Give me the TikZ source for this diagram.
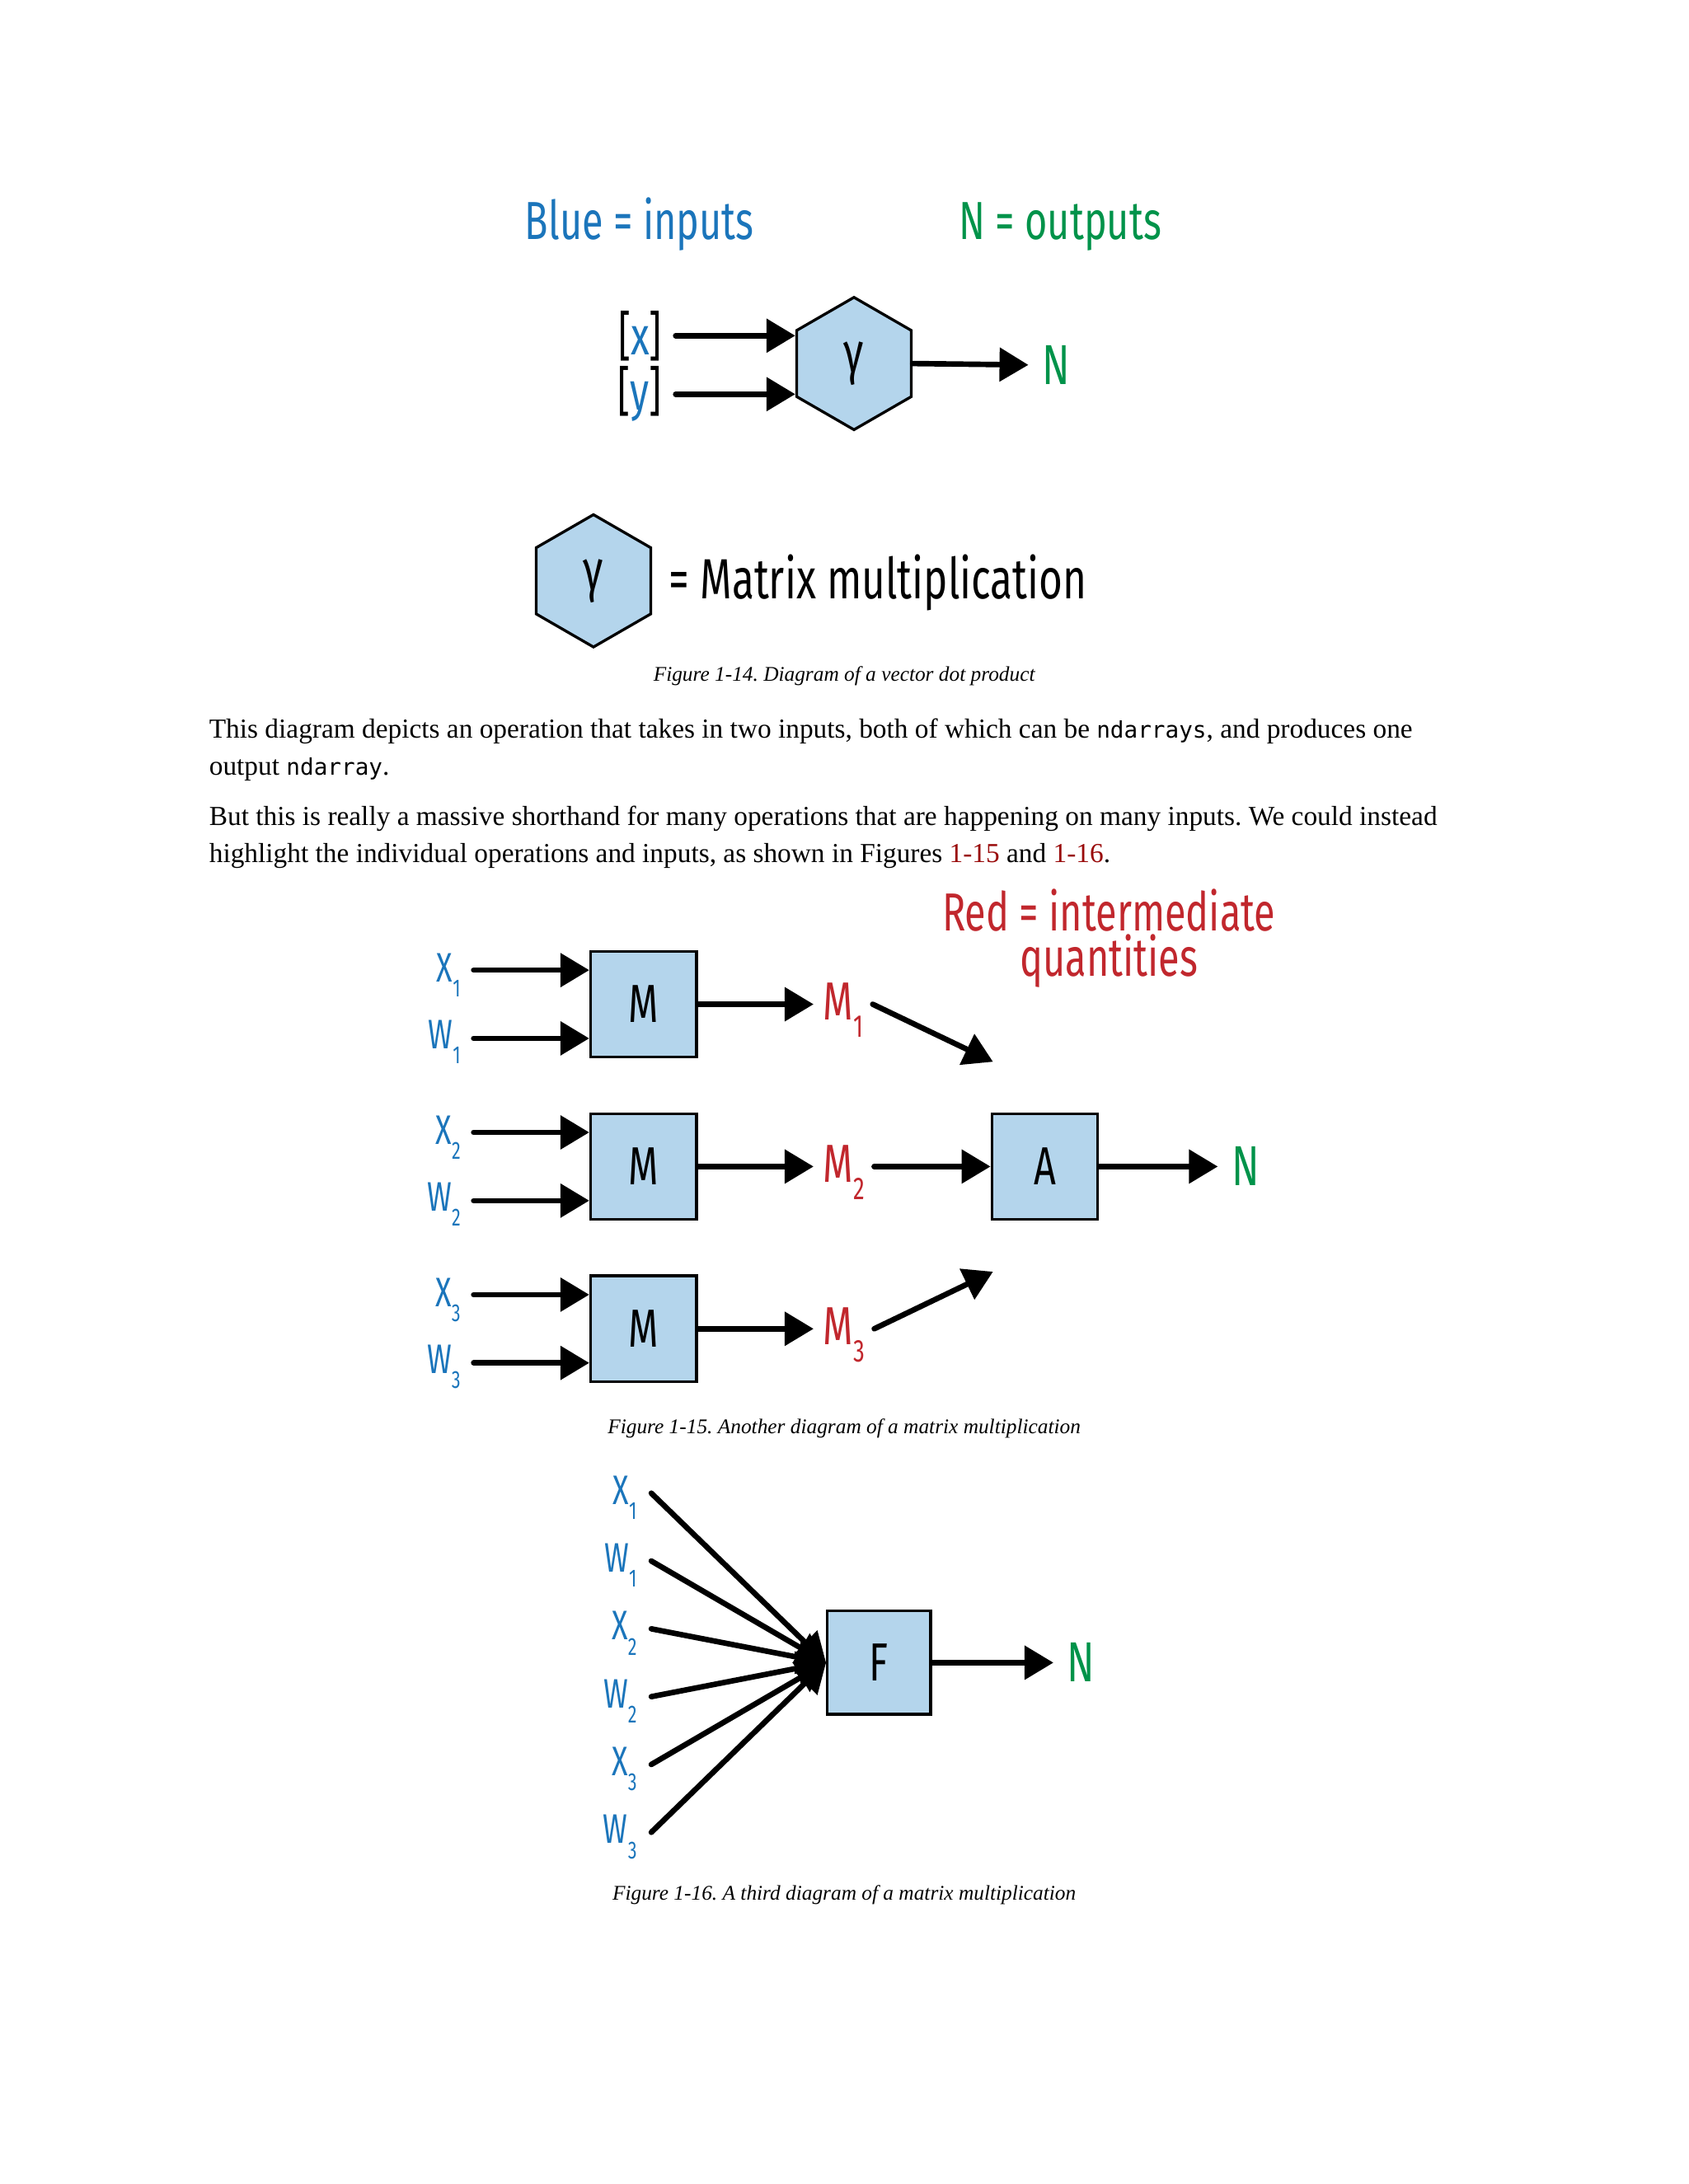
\documentclass[tikz,border=0pt]{standalone}
\usepackage{fontspec}
\setmainfont{Liberation Serif}
\newfontfamily\dgfont[FakeStretch=0.72]{Fira Sans}
\newfontfamily\codefont{DejaVu Sans Mono}
\usetikzlibrary{arrows.meta, positioning, shapes.geometric}

\definecolor{inblue}{HTML}{1B75BB}
\definecolor{outgreen}{HTML}{00934A}
\definecolor{midred}{HTML}{C1272D}
\definecolor{boxfill}{HTML}{B4D5EC}
\definecolor{linkred}{HTML}{990A0A}

\newcommand{\insub}[2]{#1\raisebox{-5.5pt}{\fontsize{9}{10}\selectfont #2}}
\newcommand{\midsub}[2]{#1\raisebox{-6.3pt}{\fontsize{11.5}{12}\selectfont #2}}
\newcommand{\ndcode}[1]{{\codefont\fontsize{8.3}{10}\selectfont #1}}

\begin{document}
\frenchspacing
\begin{tikzpicture}[x=0.017814cm, y=-0.017814cm,
    arr/.style={line width=2pt, line cap=round, -{Triangle[length=10.5pt,width=12pt]}},
    opbox/.style={draw, line width=1pt, fill=boxfill, minimum size=1.354cm, inner sep=0pt,
      font=\dgfont\fontsize{19.5}{20}\selectfont},
    ophex/.style={draw, line width=1pt, fill=boxfill, regular polygon, regular polygon sides=6,
      shape border rotate=30, minimum size=1.692cm, inner sep=0pt,
      font=\dgfont\fontsize{21}{22}\selectfont},
    key/.style={inner sep=0pt, font=\dgfont\fontsize{19.5}{22}\selectfont},
    inlbl/.style={text=inblue, inner sep=0pt, anchor=base east, font=\dgfont\fontsize{15}{16}\selectfont},
    midlbl/.style={text=midred, inner sep=0pt, outer sep=3.5pt, anchor=base west,
      font=\dgfont\fontsize{19.5}{20}\selectfont},
    outlbl/.style={text=outgreen, inner sep=0pt, outer sep=5pt, font=\dgfont\fontsize{20.5}{22}\selectfont},
    caption/.style={anchor=base, inner sep=0pt, font=\itshape\fontsize{7.6}{9}\selectfont},
    body/.style={anchor=base west, inner sep=0pt, font=\fontsize{10}{13.5}\selectfont}]

    \fill[white] (0,0) rectangle (1212,1568);
    \useasboundingbox (0,0) rectangle (1212,1568);

    % Figure 1-14: dot product
    \node[key, text=inblue, anchor=base] (bluekey) at (459,172) {Blue = inputs};
    \node[key, text=outgreen, anchor=base] (greenkey) at (761,172) {N = outputs};

    \node[ophex] (dot) at (613,261) {γ};
    \node[key, anchor=east, outer sep=5pt] (xin) at (485,241) {[\textcolor{inblue}{x}]};
    \node[key, anchor=east, outer sep=5pt] (yin) at (485,283) {[\textcolor{inblue}{y}]};
    \node[outlbl] (nout) at (758,262) {N};

    \draw[arr] (xin.east) -- (xin.east -| dot.west);
    \draw[arr] (yin.east) -- (yin.east -| dot.west);
    \draw[arr] (dot.east) -- (nout.west);

    \node[ophex] (legend) at (426,417) {γ};
    \node[key, anchor=base west, font=\dgfont\fontsize{20.6}{24}\selectfont] (mmul) at (480,430) {= Matrix multiplication};

    \node[caption] (cap14) at (606,489) {Figure 1-14. Diagram of a vector dot product};

    % text
    \node[body] (p1a) at (149.8,529.6) {This diagram depicts an operation that takes in two inputs, both of which can be \ndcode{ndarrays}, and produces one};
    \node[body] (p1b) at (149.8,556.3) {output \ndcode{ndarray}.};
    \node[body] (p2a) at (149.8,592.8) {But this is really a massive shorthand for many operations that are happening on many inputs. We could instead};
    \node[body] (p2b) at (149.8,619) {highlight the individual operations and inputs, as shown in Figures \textcolor{linkred}{1-15} and \textcolor{linkred}{1-16}.};

    % Figure 1-15: three multiplications and a sum
    \node[key, text=midred, anchor=base, align=center, font=\dgfont\fontsize{19.5}{16.7}\selectfont] (redkey) at (796,701) {Red = intermediate\\quantities};

    \node[opbox] (mul1) at (462,721) {M};
    \node[opbox] (mul2) at (462,837.5) {M};
    \node[opbox] (mul3) at (462,954) {M};
    \node[opbox] (add) at (750,837.5) {A};

    \coordinate (x1s) at (340,696.5);
    \coordinate (w1s) at (340,745.5);
    \coordinate (x2s) at (340,813);
    \coordinate (w2s) at (340,862);
    \coordinate (x3s) at (340,929.5);
    \coordinate (w3s) at (340,978.5);

    \node[inlbl] (x1) at (331,705) {\insub{X}{1}};
    \node[inlbl] (w1) at (331,753) {\insub{W}{1}};
    \node[inlbl] (x2) at (331,821.5) {\insub{X}{2}};
    \node[inlbl] (w2) at (331,869.5) {\insub{W}{2}};
    \node[inlbl] (x3) at (331,938) {\insub{X}{3}};
    \node[inlbl] (w3) at (331,986) {\insub{W}{3}};

    \draw[arr] (x1s) -- (x1s -| mul1.west);
    \draw[arr] (w1s) -- (w1s -| mul1.west);
    \draw[arr] (x2s) -- (x2s -| mul2.west);
    \draw[arr] (w2s) -- (w2s -| mul2.west);
    \draw[arr] (x3s) -- (x3s -| mul3.west);
    \draw[arr] (w3s) -- (w3s -| mul3.west);

    \node[midlbl] (m1) at (584,732.5) {\midsub{M}{1}};
    \node[midlbl] (m2) at (584,849) {\midsub{M}{2}};
    \node[midlbl] (m3) at (584,965.5) {\midsub{M}{3}};

    \draw[arr] (mul1.east) -- (mul1.east -| m1.west);
    \draw[arr] (mul2.east) -- (mul2.east -| m2.west);
    \draw[arr] (mul3.east) -- (mul3.east -| m3.west);

    \coordinate (a1tip) at (712.8,762.3);
    \coordinate (a3tip) at (712.8,913);
    \draw[arr] (m1.east |- mul1.east) -- (a1tip);
    \draw[arr] (m2.east |- mul2.east) -- (add.west);
    \draw[arr] (m3.east |- mul3.east) -- (a3tip);

    \node[outlbl] (nsum) at (894,837.5) {N};
    \draw[arr] (add.east) -- (nsum.west);

    \node[caption] (cap15) at (606,1029) {Figure 1-15. Another diagram of a matrix multiplication};

    % Figure 1-16: one function of all inputs
    \node[opbox, minimum size=1.32cm] (fun) at (631,1193.7) {F};
    \foreach \lbl/\y [count=\i] in {X/1072, W/1120.7, X/1169.4, W/1218.1, X/1266.8, W/1315.5} {
      \pgfmathtruncatemacro{\k}{(\i+1)/2}
      \coordinate (s\i) at (467.5,\y);
      \node[inlbl] (f\i) at (457.5,\y+8) {\insub{\lbl}{\k}};
      \draw[arr] (s\i) -- (fun.west);
    }
    \node[outlbl] (nfun) at (776,1193.7) {N};
    \draw[arr] (fun.east) -- (nfun.west);

    \node[caption] (cap16) at (606,1364) {Figure 1-16. A third diagram of a matrix multiplication};
\end{tikzpicture}
\end{document}
